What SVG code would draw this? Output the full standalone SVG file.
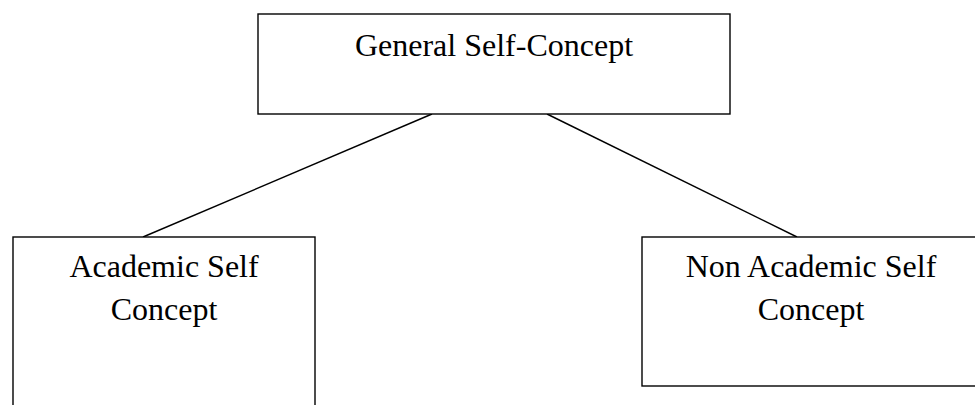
<svg xmlns="http://www.w3.org/2000/svg" width="975" height="405" viewBox="0 0 975 405">
<style>
.box{fill:#fff;stroke:#000;stroke-width:1.4}
.lbl{font-family:"Liberation Serif","Times New Roman",serif;font-size:32px;fill:#000;text-anchor:middle}
.conn{stroke:#000;stroke-width:1.4;fill:none}
</style>
<rect width="975" height="405" fill="#fff"/>
<g id="connectors">
<line class="conn" x1="432" y1="114" x2="143" y2="237"/>
<line class="conn" x1="547" y1="114" x2="797" y2="237"/>
</g>
<g id="general">
<rect class="box" x="258" y="14" width="472" height="100"/>
<text class="lbl" x="494" y="56">General Self-Concept</text>
</g>
<g id="academic">
<rect class="box" x="13" y="237" width="302" height="180"/>
<text class="lbl" x="164" y="277">Academic Self</text>
<text class="lbl" x="164" y="320">Concept</text>
</g>
<g id="nonacademic">
<rect class="box" x="642" y="237" width="340" height="149"/>
<text class="lbl" x="811" y="277">Non Academic Self</text>
<text class="lbl" x="811" y="320">Concept</text>
</g>
</svg>
